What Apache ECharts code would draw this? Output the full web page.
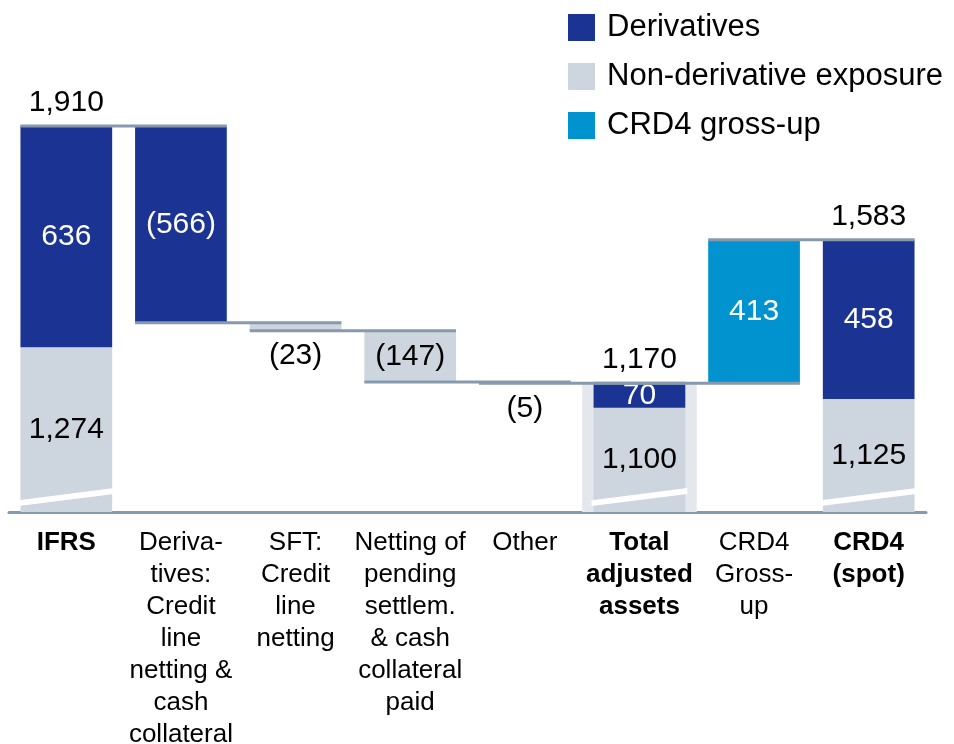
<!DOCTYPE html>
<html>
<head>
<meta charset="utf-8">
<script src="https://cdn.jsdelivr.net/npm/echarts@6/dist/echarts.min.js"></script>
<style>
  html, body { margin: 0; padding: 0; background: #fff; }
  #chart { width: 954px; height: 744px; }
</style>
</head>
<body>
<div id="chart"></div>
<script>
// categories (x axis), \n = line breaks as in the original
const categories = [
  "IFRS",
  "Deriva-\ntives:\nCredit\nline\nnetting &\ncash\ncollateral",
  "SFT:\nCredit\nline\nnetting",
  "Netting of\npending\nsettlem.\n& cash\ncollateral\npaid",
  "Other",
  "Total\nadjusted\nassets",
  "CRD4\nGross-\nup",
  "CRD4\n(spot)"
];
const boldCategories = ["IFRS", "Total\nadjusted\nassets", "CRD4\n(spot)"];
const highlightCategory = "Total\nadjusted\nassets";

// waterfall pieces
const baseValues    = [0, 1344, 1321, 1174, 1169, 0, 1170, 0];
const nonDerivative = [1274, 0, 23, 147, 5, 1100, 0, 1125];
const derivatives   = [636, 566, 0, 0, 0, 70, 0, 458];
const grossUp       = [0, 0, 0, 0, 0, 0, 413, 0];
const isDeduction   = [false, true, true, true, true, false, false, false];
const totals        = [1910, null, null, null, null, 1170, null, 1583];
// level of the connector between bar i and bar i+1
const stepLevels    = [1910, 1344, 1321, 1174, 1170, 1170, 1583];
// axis break stripe (value at left edge, value at right edge)
const breakLeft = 817, breakRight = 852, breakThick = 17;

const FONT = "'Liberation Sans', Arial, sans-serif";
const C_DERIV = "#1b3393";
const C_NON = "#cdd5de";
const C_GROSS = "#0093d0";
const C_LINE = "#8699ad";

function fmt(v, i) {
  const s = Math.round(v).toLocaleString("en-US");
  return isDeduction[i] ? "(" + s + ")" : s;
}

function pieceData(values, color) {
  return values.map(function (v, i) {
    const thin = v > 0 && v < 40;
    return {
      value: v,
      label: {
        show: v > 0,
        position: thin ? "bottom" : "inside",
        distance: thin ? 10 : 5,
        color: thin ? "#000" : color,
        formatter: function () { return fmt(v, i); }
      }
    };
  });
}

let myChart = echarts.init(document.getElementById("chart"));

myChart.setOption({
  animation: false,
  textStyle: { fontFamily: FONT },
  legend: {
    data: ["Derivatives", "Non-derivative exposure", "CRD4 gross-up"],
    orient: "vertical",
    left: 563,
    top: 7,
    itemWidth: 27,
    itemHeight: 27,
    itemGap: 18,
    icon: "rect",
    selectedMode: false,
    textStyle: {
      fontFamily: FONT,
      fontSize: 31,
      color: "#000",
      padding: [0, 0, 0, 7]
    }
  },
  grid: {
    left: 9,
    right: 28,
    top: 60,
    bottom: 232,
    outerBoundsMode: "none"
  },
  xAxis: [
    {
      type: "category",
      data: categories,
      axisLine: { show: true, onZero: false, lineStyle: { color: C_LINE, width: 3 } },
      axisTick: { show: false },
      axisLabel: {
        interval: 0,
        margin: 15,
        fontFamily: FONT,
        fontSize: 26,
        lineHeight: 32,
        color: "#000",
        formatter: function (val) {
          const tag = boldCategories.indexOf(val) >= 0 ? "b" : "n";
          return val.split("\n").map(function (l) { return "{" + tag + "|" + l + "}"; }).join("\n");
        },
        rich: {
          b: { fontFamily: FONT, fontSize: 26, fontWeight: "bold", lineHeight: 32, color: "#000" },
          n: { fontFamily: FONT, fontSize: 26, lineHeight: 32, color: "#000" }
        }
      }
    },
    {
      type: "category",
      data: categories,
      show: false
    }
  ],
  yAxis: {
    type: "value",
    min: 800,
    max: 2100,
    show: false,
    splitLine: { show: false }
  },
  series: [
    {
      name: "bg",
      type: "bar",
      xAxisIndex: 1,
      barWidth: "100%",
      silent: true,
      z: 1,
      itemStyle: { color: "#e4e8ed" },
      data: categories.map(function (c, i) { return c === highlightCategory ? totals[i] : "-"; })
    },
    {
      name: "base",
      type: "bar",
      stack: "w",
      barWidth: "80%",
      silent: true,
      z: 2,
      itemStyle: { color: "transparent" },
      data: baseValues
    },
    {
      name: "Non-derivative exposure",
      type: "bar",
      stack: "w",
      z: 2,
      itemStyle: { color: C_NON },
      label: { fontFamily: FONT, fontSize: 30 },
      data: pieceData(nonDerivative, "#000")
    },
    {
      name: "Derivatives",
      type: "bar",
      stack: "w",
      z: 2,
      itemStyle: { color: C_DERIV },
      label: { fontFamily: FONT, fontSize: 30 },
      data: pieceData(derivatives, "#fff")
    },
    {
      name: "CRD4 gross-up",
      type: "bar",
      stack: "w",
      z: 2,
      itemStyle: { color: C_GROSS },
      label: { fontFamily: FONT, fontSize: 30 },
      data: pieceData(grossUp, "#fff")
    },
    {
      name: "totals",
      type: "scatter",
      symbolSize: 1,
      z: 6,
      itemStyle: { color: "transparent", opacity: 1 },
      label: {
        show: true,
        position: "top",
        distance: 8,
        fontFamily: FONT,
        fontSize: 30,
        color: "#000",
        formatter: function (p) { return fmt(p.value, p.dataIndex); }
      },
      data: totals.map(function (v) { return v == null ? "-" : v; })
    },
    {
      // connector lines between steps
      name: "connectors",
      type: "custom",
      silent: true,
      z: 5,
      renderItem: function (params, api) {
        const i = api.value(0);
        const v = api.value(1);
        const half = api.size([1, 0])[0] * 0.4;
        const p0 = api.coord([i, v]);
        const p1 = api.coord([i + 1, v]);
        return {
          type: "line",
          shape: { x1: p0[0] - half, y1: p0[1], x2: p1[0] + half, y2: p1[1] },
          style: { stroke: C_LINE, lineWidth: 3 }
        };
      },
      data: stepLevels.map(function (v, i) { return [i, v]; })
    },
    {
      // axis-break stripes on bars standing on the axis
      name: "breaks",
      type: "custom",
      silent: true,
      z: 4,
      renderItem: function (params, api) {
        const i = api.value(0);
        const half = api.size([1, 0])[0] * 0.4 + 2;
        const cx = api.coord([i, breakLeft])[0];
        const yl0 = api.coord([i, breakLeft])[1];
        const yl1 = api.coord([i, breakLeft + breakThick])[1];
        const yr0 = api.coord([i, breakRight])[1];
        const yr1 = api.coord([i, breakRight + breakThick])[1];
        return {
          type: "polygon",
          shape: { points: [[cx - half, yl0], [cx + half, yr0], [cx + half, yr1], [cx - half, yl1]] },
          style: { fill: "#fff" }
        };
      },
      data: baseValues.map(function (b, i) { return b === 0 ? [i] : null; }).filter(function (d) { return d; })
    }
  ]
});
</script>
</body>
</html>
